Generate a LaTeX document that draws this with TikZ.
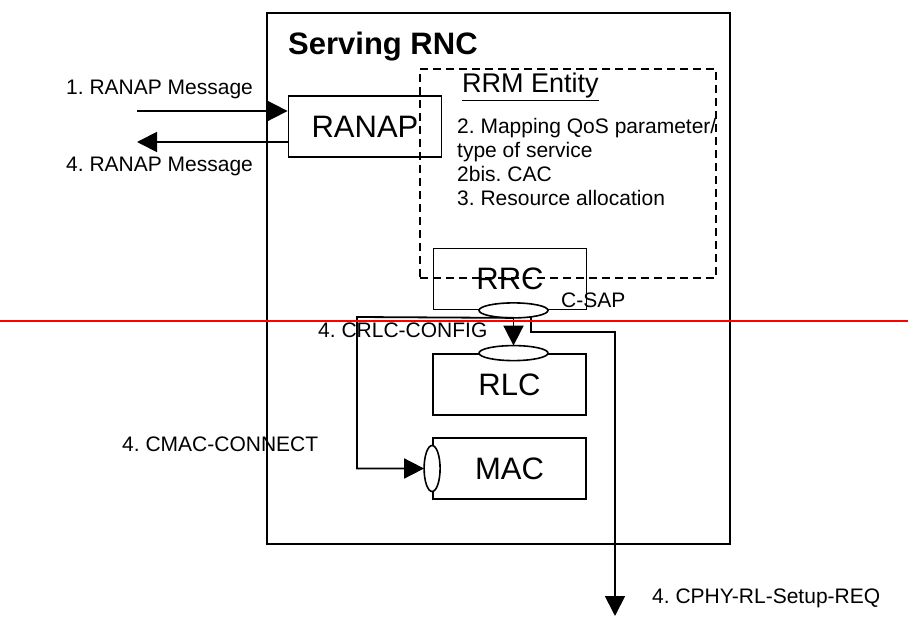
\documentclass[tikz,border=0pt]{standalone}
\usepackage{fontspec}
\setmainfont{Liberation Sans}
\frenchspacing
\usetikzlibrary{arrows.meta,positioning,shapes.geometric}
\tikzset{
  blk/.style      = {rectangle, draw=black, line width=1.8pt, minimum width=153pt,
                     minimum height=61pt, inner sep=0pt, font=\fontsize{31}{36}\selectfont},
  area/.style     = {rectangle, draw=black, line width=1.8pt, inner sep=0pt},
  dasharea/.style = {area, dash pattern=on 8pt off 5pt},
  sap/.style      = {ellipse, draw=black, line width=1.6pt, fill=white, inner sep=0pt, outer sep=0pt},
  lbl/.style      = {anchor=base west, inner sep=0pt, font=\fontsize{21}{24}\selectfont},
  fl/.style       = {-{Triangle[length=20pt,width=20pt]}, line width=1.8pt},
}

\begin{document}
\begin{tikzpicture}[x=1pt,y=-1pt]
    \useasboundingbox (0,0) rectangle (908,617);
    % serving RNC and RRM entity
    \node[area, minimum width=463pt, minimum height=531pt] (rnc) at (498.5,278.5) {};
    \node[anchor=base west, inner sep=0pt, font=\fontsize{31}{36}\selectfont\bfseries] (rnctitle) at (288,55) {Serving RNC};
    \node[dasharea, minimum width=296pt, minimum height=209pt] (rrm) at (568,173.5) {};
    \node[anchor=base west, inner sep=0pt, font=\fontsize{27}{30}\selectfont] (rrmtitle) at (462,93) {\underline{RRM Entity}};
    \node[lbl, align=left, font=\fontsize{21}{24.3}\selectfont] (rrmsteps) at (457,206) {2. Mapping QoS parameter/\\type of service\\2bis. CAC\\3. Resource allocation};
    % protocol blocks
    \node[blk] (ranap) at (365,126.5) {RANAP};
    \node[blk] (rrc)   at (510,279)   {RRC};
    \node[blk] (rlc)   at (509.5,384.5) {RLC};
    \node[blk] (mac)   at (509.5,468.5) {MAC};
    \node[sap, minimum width=69pt, minimum height=15pt] (csap)   at ([xshift=3.5pt]rrc.south) {};
    \node[sap, minimum width=69pt, minimum height=15pt] (rlcsap) at ([xshift=4pt]rlc.north) {};
    \node[sap, minimum width=16pt, minimum height=46pt] (macsap) at (mac.west) {};
    % labels
    \node[lbl] (msg1)    at (66,95)   {1. RANAP Message};
    \node[lbl] (msg4)    at (66,172)  {4. RANAP Message};
    \node[lbl] (csaplbl) at (561,308) {C-SAP};
    \node[lbl] (crlc)    at (318,338) {4. CRLC-CONFIG};
    \node[lbl] (cmac)    at (122,452) {4. CMAC-CONNECT};
    \node[lbl] (cphy)    at (652,603) {4. CPHY-RL-Setup-REQ};
    % RANAP messages
    \coordinate (corein)  at (137,111);
    \coordinate (coreout) at (137,142);
    \draw[fl] (corein) -- (corein -| ranap.west);
    \draw[fl] (coreout -| ranap.west) -- (coreout);
    % control primitives
    \coordinate (cmacbend) at (357,317);
    \coordinate (cphyend)  at (615,616);
    \draw[fl] (csap.south) -- (rlcsap.north);
    \draw[fl] (csap.south) -- (cmacbend) |- (macsap.west);
    \draw[fl] (csap.-20) -- ++(0,15) -| (cphyend);
    % red line
    \coordinate (redl) at (0,321);
    \coordinate (redr) at (908,321);
    \draw[red, line width=2.5pt] (redl) -- (redr);
\end{tikzpicture}
\end{document}
